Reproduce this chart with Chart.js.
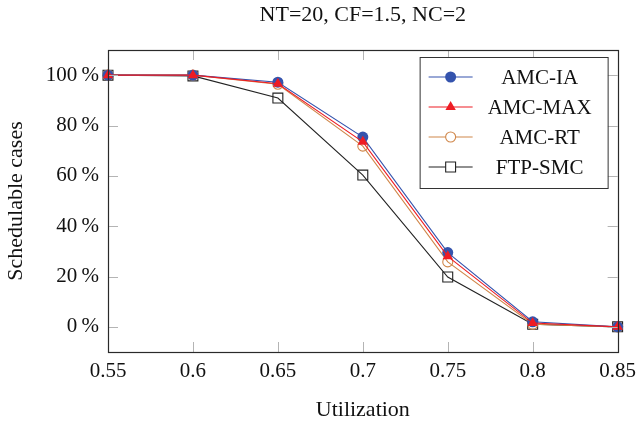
<!DOCTYPE html>
<html>
<head>
<meta charset="utf-8">
<script src="https://cdn.jsdelivr.net/npm/chart.js@4/dist/chart.umd.min.js"></script>
<style>
  html, body { margin: 0; padding: 0; background: #fff; }
  #wrap { width: 643px; height: 426px; }
</style>
</head>
<body>
<div id="wrap"><canvas id="chart" width="643" height="426"></canvas></div>
<script>
// --- dados ---
const utilization = [0.55, 0.6, 0.65, 0.7, 0.75, 0.8, 0.85];
const amcIA = [100, 100, 97.2, 75.4, 29.5, 2, 0];
const amcMAX = [100, 100, 96.6, 73.5, 28, 1.5, 0];
const amcRT = [100, 100, 96.4, 71.8, 25.8, 1, 0];
const ftpSMC = [100, 99.7, 90.9, 60.3, 19.8, 1, 0];

const xTicks = [0.55, 0.6, 0.65, 0.7, 0.75, 0.8, 0.85];
const yTicks = [0, 20, 40, 60, 80, 100];

const chartTitle = "NT=20, CF=1.5, NC=2";
const serif = "'Liberation Serif', 'Times New Roman', serif";

const toPoints = (ys) => utilization.map((x, i) => ({ x: x, y: ys[i] }));

const series = [
  { label: "AMC-IA", data: amcIA, color: "#3453ad", style: "circle", fill: true, radius: 5.5, order: 1 },
  { label: "AMC-MAX", data: amcMAX, color: "#ee1c24", style: "triangle", fill: true, radius: 6, order: 0 },
  { label: "AMC-RT", data: amcRT, color: "#d0874a", style: "circle", fill: false, radius: 5, order: 2 },
  { label: "FTP-SMC", data: ftpSMC, color: "#222222", style: "rect", fill: false, radius: 7, order: 3 },
];

/**
 * Ticks internos nos quatro lados + moldura + título centrado na área do gráfico.
 */
const frameTicks = {
  id: "frameTicks",
  afterDatasetsDraw(chart) {
    const { ctx, chartArea: a, scales } = chart;
    const len = 10;
    ctx.save();
    ctx.strokeStyle = "#b4b4b4";
    ctx.lineWidth = 1;
    ctx.beginPath();
    xTicks.forEach((v) => {
      const px = Math.round(scales.x.getPixelForValue(v)) + 0.5;
      ctx.moveTo(px, a.bottom);
      ctx.lineTo(px, a.bottom - len);
      ctx.moveTo(px, a.top);
      ctx.lineTo(px, a.top + len);
    });
    yTicks.forEach((v) => {
      const py = Math.round(scales.y.getPixelForValue(v)) + 0.5;
      ctx.moveTo(a.left, py);
      ctx.lineTo(a.left + len, py);
      ctx.moveTo(a.right, py);
      ctx.lineTo(a.right - len, py);
    });
    ctx.stroke();
    ctx.strokeStyle = "#2a2a2a";
    ctx.lineWidth = 1.2;
    ctx.strokeRect(Math.round(a.left) + 0.5, Math.round(a.top) + 0.5,
      Math.round(a.right - a.left), Math.round(a.bottom - a.top));

    ctx.fillStyle = "#111";
    ctx.font = "22px " + serif;
    ctx.textAlign = "center";
    ctx.textBaseline = "middle";
    ctx.fillText(chartTitle, (a.left + a.right) / 2, 15);
    ctx.restore();
  },
};

function drawMarker(ctx, s, x, y) {
  ctx.beginPath();
  const r = s.radius;
  if (s.style === "circle") {
    ctx.arc(x, y, r, 0, Math.PI * 2);
  } else if (s.style === "triangle") {
    ctx.moveTo(x, y - r);
    ctx.lineTo(x + r * 0.866, y + r * 0.5);
    ctx.lineTo(x - r * 0.866, y + r * 0.5);
    ctx.closePath();
  } else {
    const h = r * Math.SQRT1_2;
    ctx.rect(x - h, y - h, 2 * h, 2 * h);
  }
  if (s.fill) {
    ctx.fillStyle = s.color;
    ctx.fill();
  } else {
    ctx.fillStyle = "#fff";
    ctx.fill();
    ctx.strokeStyle = s.color;
    ctx.lineWidth = 1.1;
    ctx.stroke();
  }
}

/**
 * Legenda dentro da área do gráfico (canto superior direito).
 */
const boxLegend = {
  id: "boxLegend",
  afterDraw(chart) {
    const { ctx, chartArea: a } = chart;
    const left = a.right - 198;
    const top = a.top + 7;
    const w = 188, h = 131;
    ctx.save();
    ctx.fillStyle = "#fff";
    ctx.fillRect(left, top, w, h);
    ctx.strokeStyle = "#333";
    ctx.lineWidth = 1;
    ctx.strokeRect(left + 0.5, top + 0.5, w, h);
    series.forEach((s, i) => {
      const y = top + 20 + i * 30;
      ctx.beginPath();
      ctx.strokeStyle = s.color;
      ctx.lineWidth = 1.2;
      ctx.moveTo(left + 9, y);
      ctx.lineTo(left + 53, y);
      ctx.stroke();
      drawMarker(ctx, s, left + 31, y);
      ctx.fillStyle = "#111";
      ctx.font = "21px " + serif;
      ctx.textAlign = "center";
      ctx.textBaseline = "middle";
      ctx.fillText(s.label, left + 120, y + 1);
    });
    ctx.restore();
  },
};

const ctx = document.getElementById("chart").getContext("2d");

new Chart(ctx, {
  type: "line",
  data: {
    datasets: series.map((s) => ({
      label: s.label,
      data: toPoints(s.data),
      borderColor: s.color,
      borderWidth: 1.1,
      backgroundColor: s.fill ? s.color : "rgba(255,255,255,0)",
      pointStyle: s.style,
      pointRadius: s.radius,
      pointBorderColor: s.color,
      pointBorderWidth: s.fill ? 0 : 1.1,
      pointBackgroundColor: s.fill ? s.color : "rgba(255,255,255,0)",
      tension: 0,
      fill: false,
      order: s.order,
      clip: false,
    })),
  },
  options: {
    responsive: false,
    animation: false,
    layout: { padding: { left: 0, right: 23, top: 50, bottom: 0 } },
    plugins: {
      legend: { display: false },
      tooltip: { enabled: false },
      title: { display: false },
    },
    scales: {
      x: {
        type: "linear",
        min: 0.55,
        max: 0.85,
        afterBuildTicks: (scale) => { scale.ticks = xTicks.map((v) => ({ value: v })); },
        afterFit: (scale) => { scale.height = 74; },
        grid: { display: false, drawTicks: false },
        border: { display: false },
        ticks: {
          color: "#111",
          padding: 7,
          maxRotation: 0,
          font: { family: serif, size: 21 },
          callback: (v) => String(v),
        },
        title: {
          display: true,
          text: "Utilization",
          color: "#111",
          font: { family: serif, size: 22 },
          padding: { top: 4, bottom: 3 },
        },
      },
      y: {
        min: -10,
        max: 110,
        afterBuildTicks: (scale) => { scale.ticks = yTicks.map((v) => ({ value: v })); },
        afterFit: (scale) => { scale.width = 108; },
        grid: { display: false, drawTicks: false },
        border: { display: false },
        ticks: {
          color: "#111",
          padding: 9,
          font: { family: serif, size: 21 },
          callback: (v) => v + "\u2009%",
        },
        title: {
          display: true,
          text: "Schedulable cases",
          color: "#111",
          font: { family: serif, size: 22 },
          padding: { top: 3, bottom: 4 },
        },
      },
    },
  },
  plugins: [frameTicks, boxLegend],
});
</script>
</body>
</html>
